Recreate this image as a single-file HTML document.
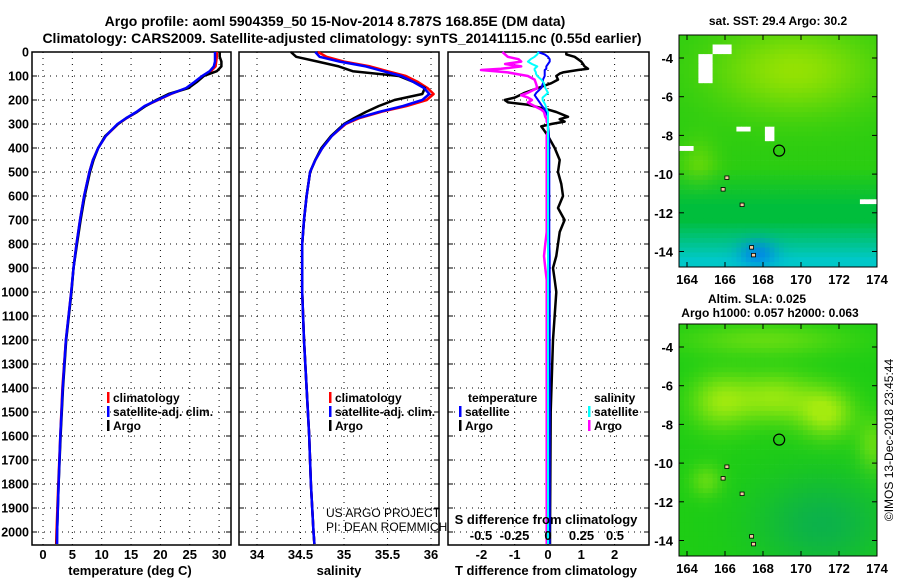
<!DOCTYPE html>
<html><head><meta charset="utf-8">
<style>
html,body{margin:0;padding:0;background:#fff;}
svg{display:block;font-family:"Liberation Sans",sans-serif;font-weight:bold;}
</style></head>
<body>
<svg id="c" width="900" height="580" viewBox="0 0 900 580" xmlns="http://www.w3.org/2000/svg">
<text x="335" y="26" font-size="14" text-anchor="middle">Argo profile: aoml 5904359_50 15-Nov-2014 8.787S 168.85E (DM data)</text>
<text x="342" y="43" font-size="14" text-anchor="middle">Climatology: CARS2009. Satellite-adjusted climatology: synTS_20141115.nc (0.55d earlier)</text>
<g id="plots"></g>
<g id="maps"></g>
<text transform="translate(893,440) rotate(-90)" font-size="12" font-weight="normal" text-anchor="middle">©IMOS 13-Dec-2018 23:45:44</text>
</svg>
<script>
// ---------- data ----------
const depthsT = [0,20,40,60,80,100,125,150,175,200,225,250,275,300,350,400,450,500,600,700,800,900,1000,1200,1400,1600,1800,2000,2050];
const tempClim = [29.6,29.6,29.5,29.4,28.6,27.2,25.9,24.5,21.8,19.6,17.4,16.0,14.3,12.8,10.7,9.4,8.5,7.9,7.0,6.3,5.7,5.2,4.8,3.9,3.3,2.95,2.6,2.3,2.25];
const tempSat  = [29.3,29.3,29.3,29.1,28.4,27.1,25.8,24.4,21.7,19.5,17.3,15.9,14.2,12.7,10.7,9.4,8.5,7.9,7.0,6.3,5.7,5.2,4.8,3.9,3.35,2.95,2.65,2.4,2.4];
const tempArgo = [30.1,30.1,30.4,30.4,29.6,27.4,26.2,24.8,21.4,19.3,17.5,16.0,14.2,12.8,10.6,9.4,8.6,8.0,7.1,6.4,5.8,5.2,4.85,3.95,3.4,3.0,2.65,2.4,2.35];
const salClim = [34.7,34.8,35.0,35.3,35.5,35.71,35.85,35.96,36.03,35.95,35.72,35.42,35.18,35.02,34.86,34.75,34.67,34.61,34.57,34.54,34.52,34.52,34.52,34.54,34.57,34.6,34.62,34.65,34.66];
const salSat  = [34.67,34.72,34.95,35.25,35.45,35.66,35.8,35.92,35.98,35.9,35.68,35.4,35.16,35.01,34.86,34.75,34.67,34.61,34.57,34.54,34.52,34.52,34.52,34.54,34.57,34.6,34.62,34.65,34.66];
const salArgo = [34.39,34.45,34.7,34.94,35.1,35.63,35.8,35.93,35.9,35.58,35.4,35.25,35.12,35.0,34.85,34.74,34.67,34.61,34.57,34.54,34.52,34.52,34.52,34.54,34.57,34.6,34.62,34.65,34.66];
const depthsD = [0,10,20,30,40,50,60,70,75,85,90,100,115,130,150,170,180,190,200,210,220,240,250,270,280,290,300,310,330,350,400,450,500,550,600,650,700,750,800,850,900,950,1000,1200,1500,2000,2050];
const dT_argo = [0.55,0.55,0.8,0.9,1.0,1.05,1.1,1.2,0.9,0.45,0.35,0.25,0.3,0.1,-0.3,-0.7,-0.85,-1.0,-1.3,-1.2,-0.6,0.0,0.25,0.6,0.35,0.5,0.1,-0.2,-0.1,0.0,0.2,0.35,0.3,0.4,0.45,0.3,0.5,0.35,0.3,0.25,0.15,0.2,0.25,0.15,0.08,0.06,0.06];
const dT_sat  = [-0.3,-0.1,0.0,0.05,0.05,0.0,-0.05,-0.05,-0.1,-0.1,-0.1,-0.1,-0.15,-0.15,-0.2,-0.35,-0.4,-0.35,-0.3,-0.25,-0.2,-0.1,-0.05,0.0,0.0,0.0,0.0,0.0,0.02,0.03,0.04,0.04,0.04,0.04,0.04,0.04,0.04,0.04,0.04,0.05,0.05,0.05,0.05,0.05,0.05,0.05,0.05];
const dS_argo = [-0.34,-0.32,-0.3,-0.22,-0.2,-0.32,-0.2,-0.35,-0.5,-0.3,-0.25,-0.15,-0.1,-0.09,-0.08,-0.15,-0.2,-0.15,-0.12,-0.15,-0.12,-0.05,-0.03,-0.02,-0.01,-0.01,0,0,0,-0.01,-0.01,-0.01,-0.01,-0.01,-0.01,-0.01,-0.01,-0.01,-0.02,-0.03,-0.02,-0.01,-0.01,-0.01,-0.01,-0.01,-0.01];
const dS_sat  = [-0.07,-0.08,-0.1,-0.13,-0.15,-0.12,-0.08,-0.1,-0.1,-0.09,-0.09,-0.08,-0.05,-0.03,-0.02,0,-0.02,-0.04,-0.04,-0.03,-0.02,-0.01,0,0,0,0,0,0,0,0,0,0,0,0,0,0,0,0,0,0,0,0,0,0,0,0,0];
const depthTicks = [0,100,200,300,400,500,600,700,800,900,1000,1100,1200,1300,1400,1500,1600,1700,1800,1900,2000];
const tempTicks = [0,5,10,15,20,25,30];
const salTicks = [34,34.5,35,35.5,36];
const tdTicks = [-2,-1,0,1,2];
const sdTicks = [-0.5,-0.25,0,0.25,0.5];
const lonTicks = [164,166,168,170,172,174];
const latTicks = [-4,-6,-8,-10,-12,-14];

// ---------- helpers ----------
const NS = "http://www.w3.org/2000/svg";
function mk(tag, attrs, parent){const e=document.createElementNS(NS,tag);for(const k in attrs)e.setAttribute(k,attrs[k]);parent.appendChild(e);return e;}
const plots = document.getElementById('plots');
const TOP=52, BOT=545;
const y = d => TOP + d*0.24;
const P1={l:32,r:231}, P2={l:239,r:439}, P3={l:448,r:649};
const xT = v => 43 + v*5.87;
const xS = v => 257 + (v-34)*87;
const xTd = v => 548 + v*33.3;
const xSd = v => 548 + v*134;

function frame(P,name){
  const g=mk('g',{},plots);
  
  
  mk('rect',{x:P.l,y:TOP,width:P.r-P.l,height:BOT-TOP,fill:'#fff',stroke:'#000','stroke-width':1.5},g);
  depthTicks.forEach(d=>{
    const l=mk('line',{x1:P.l,x2:P.r,y1:y(d),y2:y(d),stroke:'#000','stroke-dasharray':'1 5','stroke-width':1},g);
    
    
    mk('line',{x1:P.l,x2:P.l+5,y1:y(d),y2:y(d),stroke:'#000'},g);
    mk('line',{x1:P.r-5,x2:P.r,y1:y(d),y2:y(d),stroke:'#000'},g);
  });
  return g;
}
function vgrid(g,ticks,fx){
  ticks.forEach(t=>{
    const l=mk('line',{x1:fx(t),x2:fx(t),y1:TOP,y2:BOT,stroke:'#000','stroke-dasharray':'1 5'},g);
    
    
  });
}
function xlabels(ticks,fx,yy,labels){
  ticks.forEach((t,i)=>{
    const tx=mk('text',{x:fx(t),y:yy,'font-size':13,'text-anchor':'middle'},plots);
    tx.textContent=labels?labels[i]:String(t);
    
    
  });
}
function line(g,xs,ds,fx,color,w,name){
  const pts=xs.map((v,i)=>fx(v).toFixed(1)+','+y(ds[i]).toFixed(1)).join(' ');
  const p=mk('polyline',{points:pts,fill:'none',stroke:color,'stroke-width':w,'stroke-linejoin':'round'},g);
  
  
}
function label(txt,x,yy,size,anchor,name,parent,weight){
  const t=mk('text',{x:x,y:yy,'font-size':size,'text-anchor':anchor||'start'},parent||plots);
  if(weight)t.setAttribute('font-weight',weight);
  t.textContent=txt;
  
  
  return t;
}
function legend(x,yy,items,parent){
  items.forEach((it,i)=>{
    mk('rect',{x:x,y:yy+i*14-10,width:2.5,height:11,fill:it[1]},parent||plots);
    label(it[0],x+6,yy+i*14,12,'start','legend-entry-'+it[0].replace(/[^a-z]+/gi,'-').toLowerCase(),parent);
  });
}

depthTicks.forEach(d=>{label(String(d),29,y(d)+4.5,12.5,'end','y-tick-label');});

const g1=frame(P1,'temperature-panel');
vgrid(g1,tempTicks,xT);
line(g1,tempClim,depthsT,xT,'#f00',2.5,'temperature-climatology-line');
line(g1,tempArgo,depthsT,xT,'#000',2.5,'temperature-argo-line');
line(g1,tempSat,depthsT,xT,'#00f',2.5,'temperature-satellite-line');
xlabels(tempTicks,xT,559);
label('temperature (deg C)',130,575,13,'middle','x-axis-title-temperature');
legend(107,402,[['climatology','#f00'],['satellite-adj. clim.','#00f'],['Argo','#000']]);

const g2=frame(P2,'salinity-panel');
vgrid(g2,salTicks,xS);
line(g2,salClim,depthsT,xS,'#f00',2.5,'salinity-climatology-line');
line(g2,salArgo,depthsT,xS,'#000',2.5,'salinity-argo-line');
line(g2,salSat,depthsT,xS,'#00f',2.5,'salinity-satellite-line');
xlabels(salTicks,xS,559,['34','34.5','35','35.5','36']);
label('salinity',339,575,13,'middle','x-axis-title-salinity');
legend(329,402,[['climatology','#f00'],['satellite-adj. clim.','#00f'],['Argo','#000']]);
label('US ARGO PROJECT',326,517,12,'start','project-credit',plots,'normal');
label('PI: DEAN ROEMMICH',326,531,12,'start','pi-credit',plots,'normal');

const g3=frame(P3,'difference-panel');
vgrid(g3,tdTicks,xTd);
line(g3,dT_argo,depthsD,xTd,'#000',2.5,'temperature-diff-argo-line');
line(g3,dS_argo,depthsD,xSd,'#f0f',2.5,'salinity-diff-argo-line');
line(g3,dT_sat,depthsD,xTd,'#00f',2,'temperature-diff-satellite-line');
line(g3,dS_sat,depthsD,xSd,'#0ff',2,'salinity-diff-satellite-line');
xlabels(tdTicks,xTd,559);
label('T difference from climatology',546,575,13,'middle','x-axis-title-t-difference');
label('S difference from climatology',546,524,13,'middle','x-axis-title-s-difference');
xlabels(sdTicks,xSd,540,['-0.5','-0.25','0','0.25','0.5']);
label('temperature',468,402,12,'start','legend-title-temperature');
legend(459,416,[['satellite','#00f'],['Argo','#000']]);
label('salinity',594,402,12,'start','legend-title-salinity');
legend(588,416,[['satellite','#0ff'],['Argo','#f0f']]);

// ---------- maps ----------
const maps=document.getElementById('maps');
function mapPanel(top,name,colorFn){
  const M={l:679,r:877,t:top,b:top+232};
  const lonX=v=>687+(v-164)*19;
  const latY=v=>top+23+(-4-v)*19.35;
  const g=mk('g',{},maps);
  
  
  const step=0.25;
  for(let lat=-2.8;lat>-14.9;lat-=step){
    for(let lon=163.6;lon<174.1;lon+=step){
      const c=colorFn(lon,lat);
      const x0=Math.max(M.l,lonX(lon)), y0=Math.max(M.t,latY(lat));
      const x1=Math.min(M.r,lonX(lon+step)), y1=Math.min(M.b,latY(lat-step));
      if(x1>x0&&y1>y0) mk('rect',{x:x0.toFixed(1),y:y0.toFixed(1),width:(x1-x0+0.4).toFixed(1),height:(y1-y0+0.4).toFixed(1),fill:c},g);
    }
  }
  mk('rect',{x:M.l,y:M.t,width:M.r-M.l,height:M.b-M.t,fill:'none',stroke:'#000','stroke-width':1},g);
  lonTicks.forEach(v=>{
    mk('line',{x1:lonX(v),x2:lonX(v),y1:M.t,y2:M.t+5,stroke:'#000'},g);
    mk('line',{x1:lonX(v),x2:lonX(v),y1:M.b-5,y2:M.b,stroke:'#000'},g);
    label(String(v),lonX(v),M.b+17,13,'middle','lon-tick-label',maps);
  });
  latTicks.forEach(v=>{
    mk('line',{x1:M.l,x2:M.l+5,y1:latY(v),y2:latY(v),stroke:'#000'},g);
    mk('line',{x1:M.r-5,x2:M.r,y1:latY(v),y2:latY(v),stroke:'#000'},g);
    label(String(v),M.l-6,latY(v)+5,13,'end','lat-tick-label',maps);
  });
  const circ=mk('circle',{cx:lonX(168.85),cy:latY(-8.787),r:5.5,fill:'none',stroke:'#000','stroke-width':1.2},g);
  
  
  [[165.9,-10.8],[166.9,-11.6],[167.4,-13.8],[167.5,-14.2],[166.1,-10.2]].forEach(p=>{
    mk('rect',{x:lonX(p[0])-2,y:latY(p[1])-2,width:4,height:3.5,fill:'#f4c8a0',stroke:'#000','stroke-width':0.8},g);
  });
  return g;
}
function mix(a,b,t){t=Math.max(0,Math.min(1,t));return a.map((v,i)=>Math.round(v+(b[i]-v)*t));}
function rgb(c){return 'rgb('+c[0]+','+c[1]+','+c[2]+')';}
const YG=[170,230,0], G=[20,200,20], GG=[0,190,60], CY=[0,200,200], BL=[0,120,240];
function g2d(lon,lat,x,yy,sx,sy){return Math.exp(-((lon-x)*(lon-x))/(2*sx*sx)-((lat-yy)*(lat-yy))/(2*sy*sy));}
function sstColor(lon,lat){
  if((lon<165.2&&lon>164.5&&lat>-5.3&&lat<-3.6)||(lon<166.2&&lon>165.2&&lat>-3.6&&lat<-3.2)||(lon>173&&lat<-11.1&&lat>-11.4)||(lon>168&&lon<168.5&&lat<-7.3&&lat>-8.2)||(lon<164.3&&lat<-8.4&&lat>-8.7)||(lon>166.4&&lon<167.3&&lat<-7.4&&lat>-7.7)) return '#fff';
  let t=0.15+0.7*g2d(lon,lat,169.5,-4.5,3.0,1.6)+0.35*g2d(lon,lat,164.5,-9.5,0.7,1.0);
  let c=mix(G,YG,t);
  if(lat<-9.5) c=mix(c,GG,Math.min(1,(-9.5-lat)*0.5));
  if(lat<-12.3) c=mix(c,CY,(-12.3-lat)*0.5);
  c=mix(c,BL,0.75*g2d(lon,lat,167.6,-14.0,0.7,0.5));
  return rgb(c);
}
function slaColor(lon,lat){
  let v=0.95*g2d(lon,lat,171.2,-7.3,1.0,0.9)+0.85*g2d(lon,lat,168.5,-6.5,1.5,0.9)+0.8*g2d(lon,lat,165.6,-6.7,1.1,1.0)+0.5*g2d(lon,lat,168,-3.5,3,0.6)+0.5*g2d(lon,lat,164.9,-10.8,0.6,0.6)+0.55*g2d(lon,lat,173.7,-9,0.6,1.0);
  let c=mix([30,205,20],[165,235,15],v);
  c=mix(c,[10,175,80],g2d(lon,lat,171,-13,2.5,1.8)*0.9);
  return rgb(c);
}
mapPanel(35,'sst-map',sstColor);
label('sat. SST: 29.4 Argo: 30.2',778,25,12,'middle','sst-map-title',maps);
mapPanel(324,'sla-map',slaColor);
label('Altim. SLA: 0.025',757,303,12,'middle','sla-map-title-1',maps);
label('Argo h1000: 0.057 h2000: 0.063',770,317,12,'middle','sla-map-title-2',maps);
</script>
</body></html>
